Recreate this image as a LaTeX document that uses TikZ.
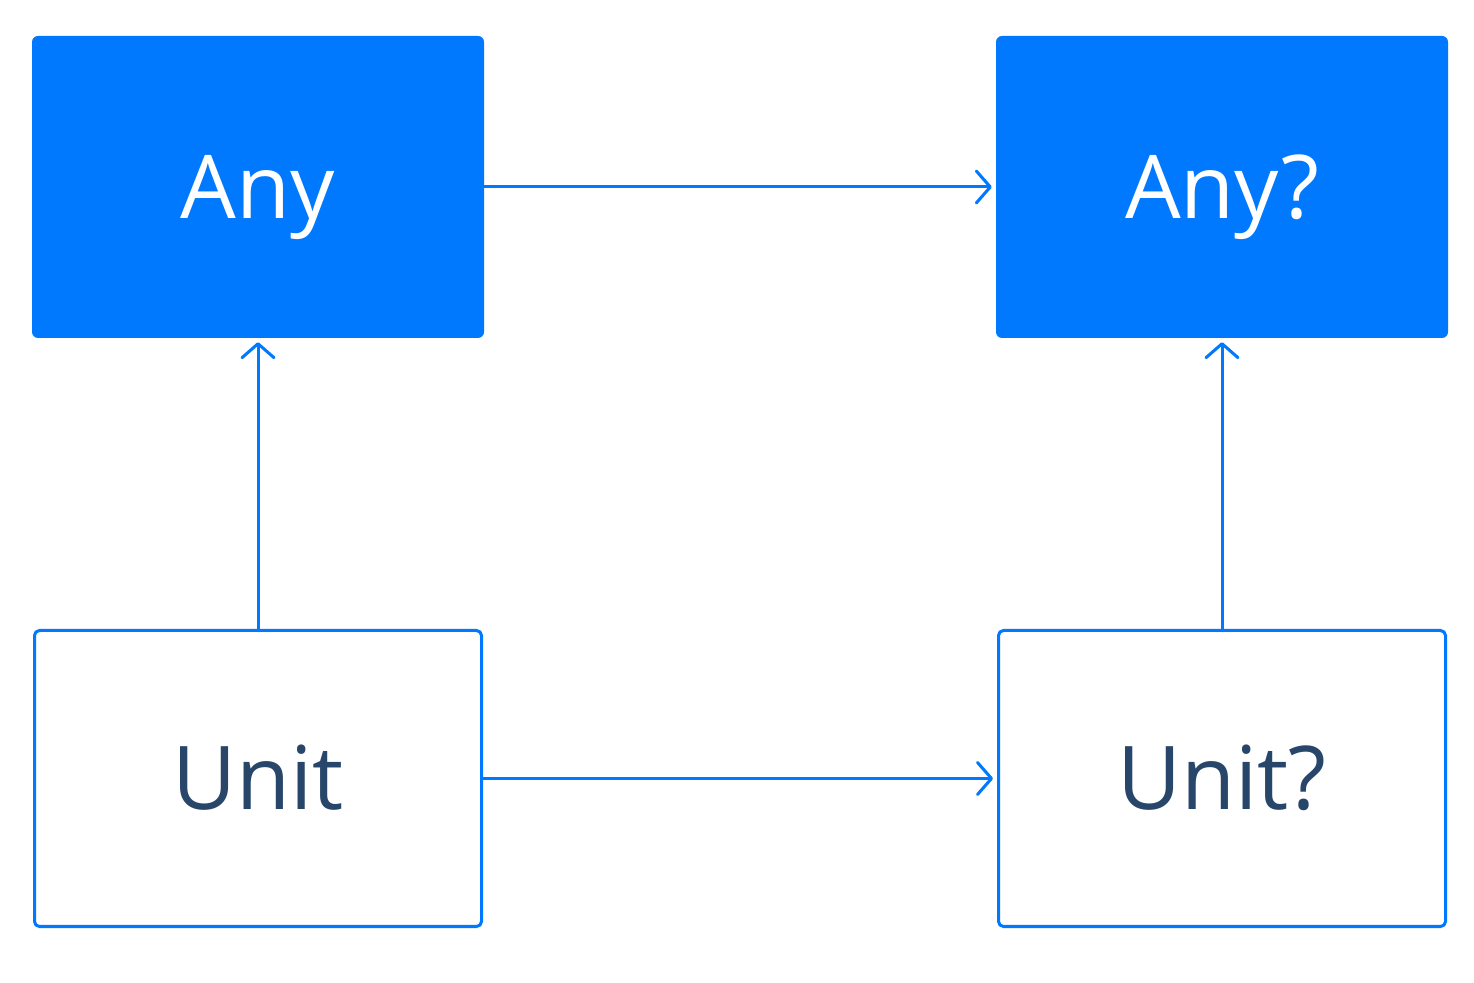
\documentclass[tikz,border=0pt]{standalone}
\usepackage{fontspec}
\setmainfont{Open Sans}
\usetikzlibrary{positioning,arrows.meta}
\definecolor{kBlue}{HTML}{0079FF}
\definecolor{kNavy}{HTML}{27466A}

\begin{document}
\begin{tikzpicture}[x=1pt,y=1pt,>={Straight Barb[length=14pt,width=32pt,line cap=round,round]}]
  \tikzstyle{filled}=[fill=kBlue,draw=none,rounded corners=6pt,minimum width=452pt,minimum height=302pt,text=white,font=\fontsize{88}{92}\selectfont,text height=63pt,text depth=0pt]
  \tikzstyle{outline}=[draw=kBlue,line width=3pt,fill=white,rounded corners=5pt,minimum width=447pt,minimum height=296pt,text=kNavy,font=\fontsize{88}{92}\selectfont,text height=63pt,text depth=0pt]
  \tikzstyle{link}=[->,draw=kBlue,line width=3pt,shorten >=4pt]
  \useasboundingbox (0,0) rectangle (1474,982);
  \node[filled] (any) at (258,795) {Any};
  \node[filled] (anyq) at (1222,795) {Any?};
  \node[outline] (unit) at (258,203.5) {Unit};
  \node[outline] (unitq) at (1222,203.5) {Unit?};
  \draw[link] (any) -- (anyq);
  \draw[link] (unit) -- (unitq);
  \draw[link] (unit) -- (any);
  \draw[link] (unitq) -- (anyq);
\end{tikzpicture}
\end{document}
